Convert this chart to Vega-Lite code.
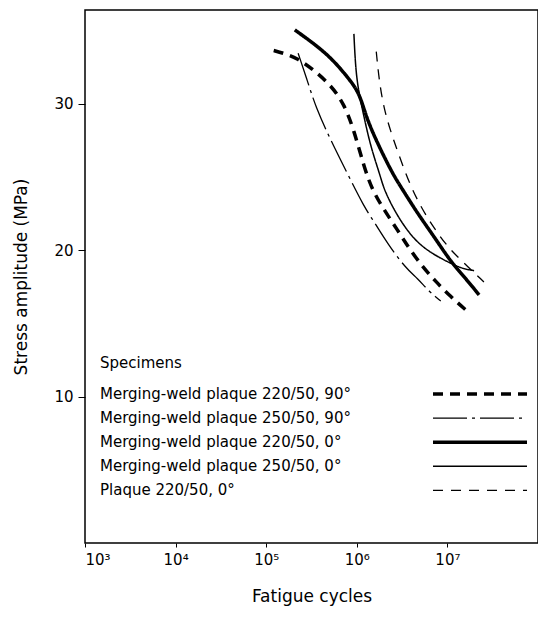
{
  "$schema": "https://vega.github.io/schema/vega-lite/v6.json",
  "width": 453,
  "height": 533,
  "autosize": {"type": "none"},
  "padding": {"left": 85, "top": 10, "right": 0, "bottom": 82},
  "background": "white",
  "config": {
    "view": {"stroke": "black", "strokeWidth": 1.5},
    "font": "DejaVu Sans",
    "axis": {"labelColor": "black", "titleColor": "black", "tickColor": "black", "grid": false, "domain": false, "labelFont": "DejaVu Sans", "titleFont": "DejaVu Sans", "titleFontWeight": "normal", "labelFontSize": 15, "titleFontSize": 17}
  },
  "data": {
    "values": [
      {"s": "Merging-weld plaque 220/50, 90°", "n": 121000, "a": 33.63},
      {"s": "Merging-weld plaque 220/50, 90°", "n": 156000, "a": 33.45},
      {"s": "Merging-weld plaque 220/50, 90°", "n": 220000, "a": 33.11},
      {"s": "Merging-weld plaque 220/50, 90°", "n": 335000, "a": 32.31},
      {"s": "Merging-weld plaque 220/50, 90°", "n": 513000, "a": 31.28},
      {"s": "Merging-weld plaque 220/50, 90°", "n": 719000, "a": 30.03},
      {"s": "Merging-weld plaque 220/50, 90°", "n": 929000, "a": 28.21},
      {"s": "Merging-weld plaque 220/50, 90°", "n": 1200000, "a": 25.7},
      {"s": "Merging-weld plaque 220/50, 90°", "n": 1480000, "a": 24.11},
      {"s": "Merging-weld plaque 220/50, 90°", "n": 2000000, "a": 22.75},
      {"s": "Merging-weld plaque 220/50, 90°", "n": 2810000, "a": 21.38},
      {"s": "Merging-weld plaque 220/50, 90°", "n": 3770000, "a": 20.13},
      {"s": "Merging-weld plaque 220/50, 90°", "n": 5310000, "a": 18.87},
      {"s": "Merging-weld plaque 220/50, 90°", "n": 7450000, "a": 17.85},
      {"s": "Merging-weld plaque 220/50, 90°", "n": 10900000, "a": 16.82},
      {"s": "Merging-weld plaque 220/50, 90°", "n": 16400000, "a": 15.85},

      {"s": "Merging-weld plaque 250/50, 90°", "n": 225000, "a": 33.45},
      {"s": "Merging-weld plaque 250/50, 90°", "n": 283000, "a": 31.63},
      {"s": "Merging-weld plaque 250/50, 90°", "n": 350000, "a": 29.8},
      {"s": "Merging-weld plaque 250/50, 90°", "n": 513000, "a": 27.53},
      {"s": "Merging-weld plaque 250/50, 90°", "n": 785000, "a": 25.25},
      {"s": "Merging-weld plaque 250/50, 90°", "n": 1200000, "a": 22.97},
      {"s": "Merging-weld plaque 250/50, 90°", "n": 1550000, "a": 21.95},
      {"s": "Merging-weld plaque 250/50, 90°", "n": 2170000, "a": 20.47},
      {"s": "Merging-weld plaque 250/50, 90°", "n": 3470000, "a": 18.76},
      {"s": "Merging-weld plaque 250/50, 90°", "n": 4670000, "a": 18.08},
      {"s": "Merging-weld plaque 250/50, 90°", "n": 6280000, "a": 17.17},
      {"s": "Merging-weld plaque 250/50, 90°", "n": 8450000, "a": 16.53},

      {"s": "Merging-weld plaque 220/50, 0°", "n": 207000, "a": 35.04},
      {"s": "Merging-weld plaque 220/50, 0°", "n": 472000, "a": 33.45},
      {"s": "Merging-weld plaque 220/50, 0°", "n": 785000, "a": 31.85},
      {"s": "Merging-weld plaque 220/50, 0°", "n": 1010000, "a": 30.94},
      {"s": "Merging-weld plaque 220/50, 0°", "n": 1150000, "a": 30.03},
      {"s": "Merging-weld plaque 220/50, 0°", "n": 1310000, "a": 28.89},
      {"s": "Merging-weld plaque 220/50, 0°", "n": 1690000, "a": 27.3},
      {"s": "Merging-weld plaque 220/50, 0°", "n": 2470000, "a": 25.25},
      {"s": "Merging-weld plaque 220/50, 0°", "n": 3050000, "a": 24.34},
      {"s": "Merging-weld plaque 220/50, 0°", "n": 4670000, "a": 22.52},
      {"s": "Merging-weld plaque 220/50, 0°", "n": 7130000, "a": 20.92},
      {"s": "Merging-weld plaque 220/50, 0°", "n": 10900000, "a": 19.21},
      {"s": "Merging-weld plaque 220/50, 0°", "n": 15300000, "a": 18.19},
      {"s": "Merging-weld plaque 220/50, 0°", "n": 22400000, "a": 16.94},

      {"s": "Merging-weld plaque 250/50, 0°", "n": 929000, "a": 34.77},
      {"s": "Merging-weld plaque 250/50, 0°", "n": 971000, "a": 32.31},
      {"s": "Merging-weld plaque 250/50, 0°", "n": 1055000, "a": 30.72},
      {"s": "Merging-weld plaque 250/50, 0°", "n": 1200000, "a": 29.12},
      {"s": "Merging-weld plaque 250/50, 0°", "n": 1420000, "a": 27.07},
      {"s": "Merging-weld plaque 250/50, 0°", "n": 1830000, "a": 25.02},
      {"s": "Merging-weld plaque 250/50, 0°", "n": 2000000, "a": 24.11},
      {"s": "Merging-weld plaque 250/50, 0°", "n": 2810000, "a": 22.29},
      {"s": "Merging-weld plaque 250/50, 0°", "n": 4290000, "a": 20.7},
      {"s": "Merging-weld plaque 250/50, 0°", "n": 6550000, "a": 19.81},
      {"s": "Merging-weld plaque 250/50, 0°", "n": 10000000, "a": 19.21},
      {"s": "Merging-weld plaque 250/50, 0°", "n": 14100000, "a": 18.76},
      {"s": "Merging-weld plaque 250/50, 0°", "n": 19700000, "a": 18.6},

      {"s": "Plaque 220/50, 0°", "n": 1640000, "a": 33.56},
      {"s": "Plaque 220/50, 0°", "n": 1760000, "a": 31.63},
      {"s": "Plaque 220/50, 0°", "n": 2000000, "a": 29.58},
      {"s": "Plaque 220/50, 0°", "n": 2470000, "a": 27.75},
      {"s": "Plaque 220/50, 0°", "n": 3050000, "a": 26.16},
      {"s": "Plaque 220/50, 0°", "n": 3940000, "a": 24.34},
      {"s": "Plaque 220/50, 0°", "n": 5310000, "a": 22.75},
      {"s": "Plaque 220/50, 0°", "n": 7130000, "a": 21.5},
      {"s": "Plaque 220/50, 0°", "n": 10000000, "a": 20.24},
      {"s": "Plaque 220/50, 0°", "n": 14700000, "a": 19.21},
      {"s": "Plaque 220/50, 0°", "n": 25300000, "a": 17.83}
    ]
  },
  "mark": {"type": "line", "color": "black", "interpolate": "basis", "strokeCap": "butt"},
  "encoding": {
    "x": {
      "field": "n", "type": "quantitative", "title": "Fatigue cycles",
      "scale": {"type": "log", "domain": [1000, 100000000], "nice": false},
      "axis": {"values": [1000, 10000, 100000, 1000000, 10000000], "tickSize": 4, "labelPadding": 5, "titlePadding": 21,
        "labelExpr": "datum.value == 1000 ? '10³' : datum.value == 10000 ? '10⁴' : datum.value == 100000 ? '10⁵' : datum.value == 1000000 ? '10⁶' : '10⁷'"}
    },
    "y": {
      "field": "a", "type": "quantitative", "title": "Stress amplitude (MPa)",
      "scale": {"domain": [0, 36.4], "nice": false, "zero": false},
      "axis": {"values": [10, 20, 30], "tickSize": 7, "labelPadding": 5, "titlePadding": 23}
    },
    "strokeDash": {
      "field": "s", "type": "nominal",
      "scale": {
        "domain": ["Merging-weld plaque 220/50, 90°", "Merging-weld plaque 250/50, 90°", "Merging-weld plaque 220/50, 0°", "Merging-weld plaque 250/50, 0°", "Plaque 220/50, 0°"],
        "range": [[10, 7], [34, 5, 3, 5], [1, 0], [1, 0], [10, 8]]
      },
      "legend": {
        "title": "Specimens", "orient": "none", "legendX": 15, "legendY": 346, "padding": 0,
        "titleFont": "DejaVu Sans", "titleFontSize": 15, "titleFontWeight": "normal", "titleColor": "black", "titlePadding": 15.5,
        "labelFont": "DejaVu Sans", "labelFontSize": 15, "labelColor": "black", "labelLimit": 1000,
        "symbolType": "M-9.4,0H9.4", "symbolSize": 100, "symbolStrokeColor": "black", "symbolFillColor": "transparent",
        "symbolOffset": 372.5, "labelOffset": -387.5, "rowPadding": 8.1
      }
    },
    "strokeWidth": {
      "field": "s", "type": "nominal",
      "scale": {
        "type": "ordinal",
        "domain": ["Merging-weld plaque 220/50, 90°", "Merging-weld plaque 250/50, 90°", "Merging-weld plaque 220/50, 0°", "Merging-weld plaque 250/50, 0°", "Plaque 220/50, 0°"],
        "range": [3.5, 1.3, 3.5, 1.5, 1.3]
      },
      "legend": {
        "title": "Specimens", "orient": "none", "legendX": 15, "legendY": 346, "padding": 0,
        "titleFont": "DejaVu Sans", "titleFontSize": 15, "titleFontWeight": "normal", "titleColor": "black", "titlePadding": 15.5,
        "labelFont": "DejaVu Sans", "labelFontSize": 15, "labelColor": "black", "labelLimit": 1000,
        "symbolType": "M-9.4,0H9.4", "symbolSize": 100, "symbolStrokeColor": "black", "symbolFillColor": "transparent",
        "symbolOffset": 372.5, "labelOffset": -387.5, "rowPadding": 8.1
      }
    }
  }
}
